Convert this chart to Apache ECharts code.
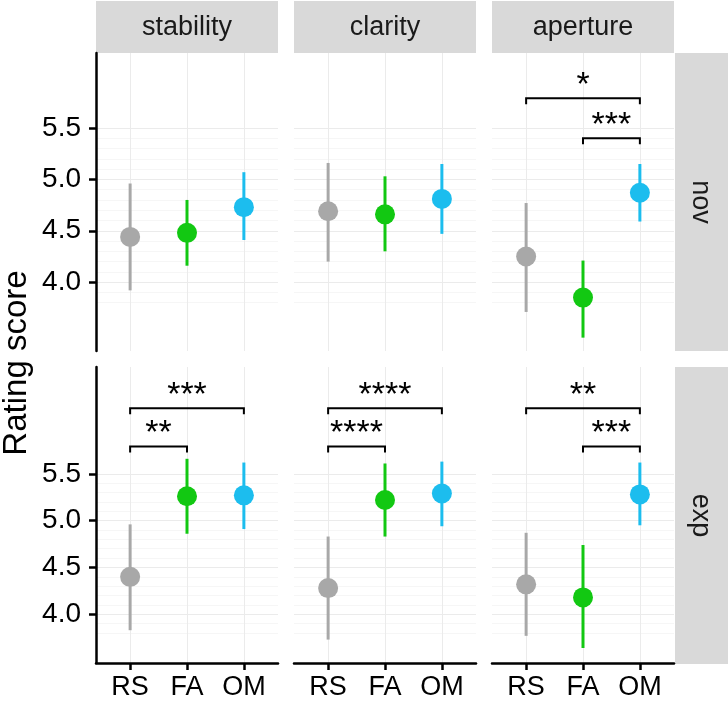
<!DOCTYPE html>
<html>
<head>
<meta charset="utf-8">
<title>Rating score</title>
<script src="https://cdn.jsdelivr.net/npm/echarts@6/dist/echarts.min.js"></script>
<style>
  html, body { margin: 0; padding: 0; background: #fff; }
  #chart { width: 728px; height: 701px; }
</style>
</head>
<body>
<div id="chart"></div>
<script>
// categories / facets
const groups = ['RS', 'FA', 'OM'];
const facets = ['stability', 'clarity', 'aperture'];
const rows = ['nov', 'exp'];
const yTicks = [4.0, 4.5, 5.0, 5.5];

// nov row: [stability, clarity, aperture] x [RS, FA, OM]
const novMean = [[4.44, 4.48, 4.73], [4.69, 4.66, 4.81], [4.25, 3.85, 4.87]];
const novLow  = [[3.92, 4.16, 4.41], [4.20, 4.30, 4.47], [3.71, 3.46, 4.59]];
const novHigh = [[4.96, 4.80, 5.07], [5.16, 5.03, 5.15], [4.77, 4.21, 5.15]];

// exp row
const expMean = [[4.40, 5.26, 5.27], [4.28, 5.22, 5.29], [4.32, 4.18, 5.28]];
const expLow  = [[3.83, 4.86, 4.91], [3.73, 4.83, 4.94], [3.77, 3.64, 4.95]];
const expHigh = [[4.96, 5.66, 5.62], [4.83, 5.61, 5.63], [4.87, 4.74, 5.62]];

// significance brackets: row, facet, from group, to group, height, label
const bracketRow   = [0, 0, 1, 1, 1, 1, 1, 1];
const bracketCol   = [2, 2, 0, 0, 1, 1, 2, 2];
const bracketFrom  = [0, 1, 0, 0, 0, 0, 0, 1];
const bracketTo    = [2, 2, 1, 2, 1, 2, 2, 2];
const bracketY     = [5.79, 5.40, 5.79, 6.20, 5.79, 6.20, 6.20, 5.79];
const bracketLabel = ['*', '***', '**', '***', '****', '****', '**', '***'];

const groupColors = ['#a8a8a8', '#12c812', '#1cbdee'];
const font = 'Liberation Sans, Arial, Helvetica, sans-serif';

// layout
const colLeft = [96, 294, 492];
const panelW = 182;
const rowTop = [53, 367];
const panelH = [298, 297];
const yRange = [[3.33, 6.23], [3.48, 6.64]];

let minorTicks = [];
for (let v = 38; v <= 54; v++) {
    if (v % 5 !== 0) minorTicks.push(v / 10);
}

let grids = [], xAxes = [], yAxes = [], series = [];

for (let r = 0; r < 2; r++) {
    const mean = r === 0 ? novMean : expMean;
    const low = r === 0 ? novLow : expLow;
    const high = r === 0 ? novHigh : expHigh;
    for (let c = 0; c < 3; c++) {
        const g = r * 3 + c;
        grids.push({ left: colLeft[c], top: rowTop[r], width: panelW, height: panelH[r] });

        xAxes.push({
            type: 'value', gridIndex: g, min: -0.6, max: 2.6,
            axisLine: { show: r === 1, onZero: false, lineStyle: { color: '#000', width: 2.5 } },
            axisTick: { show: r === 1, customValues: [0, 1, 2], length: 7, lineStyle: { color: '#000', width: 2.5 } },
            axisLabel: {
                show: r === 1, customValues: [0, 1, 2], margin: 11,
                formatter: function (v) { return groups[Math.round(v)]; },
                fontSize: 27, color: '#000', fontFamily: font
            },
            splitLine: { show: true, lineStyle: { color: '#ebebeb', width: 1 } }
        });

        yAxes.push({
            type: 'value', gridIndex: g, min: yRange[r][0], max: yRange[r][1],
            axisLine: { show: c === 0, onZero: false, lineStyle: { color: '#000', width: 2.5 } },
            axisTick: { show: c === 0, customValues: yTicks, length: 7, lineStyle: { color: '#000', width: 2.5 } },
            axisLabel: {
                show: c === 0, customValues: yTicks, margin: 15,
                formatter: function (v) { return v.toFixed(1); },
                fontSize: 28, color: '#000', fontFamily: font
            },
            splitLine: { show: true, lineStyle: { color: '#ebebeb', width: 1 } }
        });
        // faint minor grid lines
        yAxes.push({
            type: 'value', gridIndex: g, min: yRange[r][0], max: yRange[r][1], position: 'left',
            axisLine: { show: false },
            axisTick: { show: false, customValues: minorTicks },
            axisLabel: { show: false },
            splitLine: { show: true, lineStyle: { color: '#f6f6f6', width: 1 } }
        });

        let bars = [], pts = [];
        for (let i = 0; i < 3; i++) {
            bars.push([i, low[c][i], high[c][i]]);
            pts.push({ value: [i, mean[c][i]], itemStyle: { color: groupColors[i], opacity: 1 } });
        }

        series.push({
            type: 'custom', xAxisIndex: g, yAxisIndex: g * 2, z: 2, silent: true,
            data: bars,
            renderItem: function (params, api) {
                const i = api.value(0);
                const p1 = api.coord([i, api.value(1)]);
                const p2 = api.coord([i, api.value(2)]);
                return {
                    type: 'line',
                    shape: { x1: p1[0], y1: p1[1], x2: p2[0], y2: p2[1] },
                    style: { stroke: groupColors[i], lineWidth: 3 }
                };
            }
        });

        series.push({
            type: 'scatter', xAxisIndex: g, yAxisIndex: g * 2, z: 3, silent: true,
            symbolSize: 20, itemStyle: { opacity: 1 }, data: pts
        });

        let idx = [];
        for (let k = 0; k < bracketRow.length; k++) {
            if (bracketRow[k] === r && bracketCol[k] === c) idx.push(k);
        }
        if (idx.length) {
            series.push({
                type: 'custom', xAxisIndex: g, yAxisIndex: g * 2, z: 4, silent: true, clip: false,
                data: idx.map(function (k) { return [bracketFrom[k], bracketTo[k], bracketY[k]]; }),
                renderItem: function (params, api) {
                    const k = idx[params.dataIndex];
                    const a = api.coord([api.value(0), api.value(2)]);
                    const e = api.coord([api.value(1), api.value(2)]);
                    return {
                        type: 'group',
                        children: [{
                            type: 'polyline',
                            shape: { points: [[a[0], a[1] + 6], [a[0], a[1]], [e[0], e[1]], [e[0], e[1] + 6]] },
                            style: { stroke: '#000', lineWidth: 2, fill: 'none' }
                        }, {
                            type: 'text',
                            x: (a[0] + e[0]) / 2, y: a[1] - 13,
                            style: {
                                text: bracketLabel[k], fontSize: 34, fill: '#000',
                                align: 'center', verticalAlign: 'middle', fontFamily: font
                            }
                        }]
                    };
                }
            });
        }
    }
}

// facet strips and axis title
let graphics = [];
for (let c = 0; c < 3; c++) {
    graphics.push({ type: 'rect', left: colLeft[c], top: 1, shape: { width: panelW, height: 52 }, style: { fill: '#d9d9d9' } });
    graphics.push({
        type: 'text', x: colLeft[c] + panelW / 2, y: 28,
        style: { text: facets[c], fontSize: 27, fill: '#1a1a1a', align: 'center', verticalAlign: 'middle', fontFamily: font }
    });
}
for (let r = 0; r < 2; r++) {
    graphics.push({ type: 'rect', left: 675, top: rowTop[r], shape: { width: 53, height: panelH[r] }, style: { fill: '#d9d9d9' } });
    graphics.push({
        type: 'text', x: 700, y: rowTop[r] + panelH[r] / 2, rotation: -Math.PI / 2,
        style: { text: rows[r], fontSize: 27, fill: '#1a1a1a', align: 'center', verticalAlign: 'middle', fontFamily: font }
    });
}
graphics.push({
    type: 'text', x: 17, y: 363, rotation: Math.PI / 2,
    style: { text: 'Rating score', fontSize: 33, fill: '#000', align: 'center', verticalAlign: 'middle', fontFamily: font }
});

const chart = echarts.init(document.getElementById('chart'), null, { renderer: 'canvas' });
chart.setOption({
    animation: false,
    backgroundColor: '#fff',
    grid: grids,
    xAxis: xAxes,
    yAxis: yAxes,
    series: series,
    graphic: graphics
});
</script>
</body>
</html>
